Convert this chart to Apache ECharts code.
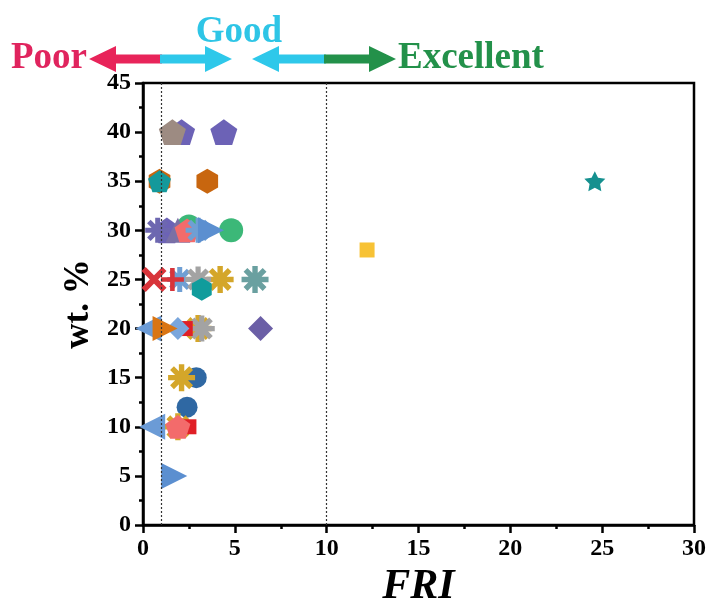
<!DOCTYPE html>
<html>
<head>
<meta charset="utf-8">
<script src="https://cdn.jsdelivr.net/npm/echarts@6/dist/echarts.min.js"></script>
<style>
html,body{margin:0;padding:0;background:#fff;}
#chart{width:706px;height:604px;}
</style>
</head>
<body>
<div id="chart"></div>
<script>
// ---------------- data ----------------
const xTicks = [0, 5, 10, 15, 20, 25, 30];
const yTicks = [0, 5, 10, 15, 20, 25, 30, 35, 40, 45];
const thresholds = [1, 10];
const headerLabels = ['Poor', 'Good', 'Excellent'];
const xName = 'FRI';
const yName = 'wt. %';

const orangeHexagon   = [[0.9, 35], [3.5, 35]];
const tealPentagon    = [[0.9, 35]];
const purplePentagon  = [[2.1, 40], [4.4, 40], [1.3, 30]];
const brownPentagon   = [[1.6, 40]];
const purpleAsterisk  = [[0.8, 30]];
const grayPurpleTri   = [[1.9, 30]];
const greenCircle     = [[2.5, 30.4], [4.8, 30]];
const salmonPentagonA = [[2.4, 30]];
const blueAsterisk    = [[2.0, 25], [3.0, 30]];
const blueRightTri    = [[1.7, 5], [3.7, 30]];
const redX            = [[0.6, 25]];
const redPlus         = [[1.6, 25]];
const grayAsterisk    = [[3.0, 25], [3.2, 20]];
const goldAsterisk    = [[4.2, 25], [3.0, 20], [2.1, 15], [1.9, 10]];
const tealGrayAsterisk= [[6.1, 25]];
const tealHexagon     = [[3.2, 24]];
const blueLeftTri     = [[0.3, 20], [0.5, 10]];
const blueDiamond     = [[1.9, 20]];
const redSquare       = [[2.3, 20], [2.5, 10]];
const orangeRightTri  = [[1.2, 20]];
const purpleDiamond   = [[6.4, 20]];
const darkBlueCircle  = [[2.9, 15], [2.4, 12]];
const salmonPentagonB = [[1.9, 10]];
const tealStar        = [[24.6, 35]];
const goldSquare      = [[12.2, 28]];

// ---------------- symbol paths ----------------
function f(n){return (Math.round(n*1000)/1000).toString();}
function barsPath(angles, hw){
  let s = 'path://';
  angles.forEach(a => {
    const r = a*Math.PI/180, c = Math.cos(r), sn = Math.sin(r);
    const dx=c, dy=sn, px=-sn*hw, py=c*hw;
    const pts = [[dx+px,dy+py],[-dx+px,-dy+py],[-dx-px,-dy-py],[dx-px,dy-py]];
    s += 'M'+f(pts[0][0])+','+f(pts[0][1]);
    for(let i=1;i<4;i++) s += 'L'+f(pts[i][0])+','+f(pts[i][1]);
    s += 'Z';
  });
  return s;
}
function polyPath(n, startDeg, inner){
  let s='path://';
  const count = inner ? n*2 : n;
  for(let i=0;i<count;i++){
    const a=(startDeg + i*360/count)*Math.PI/180;
    const rad = inner && (i%2===1) ? inner : 1;
    s += (i===0?'M':'L')+f(rad*Math.cos(a))+','+f(rad*Math.sin(a));
  }
  return s+'Z';
}
const ASTERISK = barsPath([0,45,90,135], 0.2);
const XMARK = barsPath([45,135], 0.2);
const PLUS = barsPath([0,90], 0.2);
const PENTAGON = polyPath(5, -90);
const HEXAGON = polyPath(6, -90);
const STAR = polyPath(5, -90, 0.5);

function sc(name, data, symbol, size, color, extra){
  return Object.assign({
    name, type:'scatter', data, symbol, symbolSize:size, symbolKeepAspect:true,
    itemStyle:{color, opacity:1}, silent:true
  }, extra||{});
}

const series = [
  sc('darkBlueCircle', darkBlueCircle, 'circle', 21, '#2f68a3'),
  sc('orangeHexagon', orangeHexagon, HEXAGON, 25, '#c8660f'),
  sc('tealPentagon', tealPentagon, PENTAGON, 23, '#14999b'),
  sc('purplePentagon', purplePentagon, PENTAGON, 27, '#6c62b6'),
  sc('brownPentagon', brownPentagon, PENTAGON, 27, '#9d8b82'),
  sc('purpleAsterisk', purpleAsterisk, ASTERISK, 25, '#6d67b0'),
  sc('greenCircle', greenCircle, 'circle', 24, '#3cb878'),
  sc('grayPurpleTri', grayPurpleTri, 'triangle', 25, '#7a70a5'),
  sc('salmonPentagonA', salmonPentagonA, PENTAGON, 25, '#f36b6b'),
  sc('blueAsterisk', blueAsterisk, ASTERISK, 25, '#6f9fd4'),
  sc('blueRightTri', blueRightTri, 'triangle', 26, '#5b8fd0', {symbolRotate:-90}),
  sc('redX', redX, XMARK, 25, '#d8343a'),
  sc('redPlus', redPlus, PLUS, 23, '#d8343a'),
  sc('goldAsterisk', goldAsterisk, ASTERISK, 27, '#d4a62a'),
  sc('grayAsterisk', grayAsterisk, ASTERISK, 26, '#a3a3a3'),
  sc('tealGrayAsterisk', tealGrayAsterisk, ASTERISK, 27, '#6aa0a0'),
  sc('tealHexagon', tealHexagon, HEXAGON, 23, '#109c9c'),
  sc('blueLeftTri', blueLeftTri, 'triangle', 26, '#6b9bd6', {symbolRotate:90}),
  sc('redSquare', redSquare, 'rect', 15, '#e01f26'),
  sc('blueDiamond', blueDiamond, 'diamond', 23, '#7aa6dc'),
  sc('orangeRightTri', orangeRightTri, 'triangle', 25, '#d97514', {symbolRotate:-90}),
  sc('purpleDiamond', purpleDiamond, 'diamond', 25, '#6b5fa6'),
  sc('salmonPentagonB', salmonPentagonB, PENTAGON, 25, '#f36b6b'),
  sc('tealStar', tealStar, STAR, 21, '#15908f'),
  sc('goldSquare', goldSquare, 'rect', 15, '#f7c235')
];

series.push({
  type:'scatter', data:[], silent:true,
  markLine:{
    silent:true, symbol:'none', animation:false,
    lineStyle:{type:[2,2], color:'#333', width:1.2},
    label:{show:false},
    data: thresholds.map(v=>({xAxis:v}))
  }
});

const FONT = '"Liberation Serif","Times New Roman",serif';

// header arrows
function arrow(tipX, y, dir, headLen, headH, shaftH, shaftEnd){
  const hb = tipX - dir*headLen;
  return [[tipX,y],[hb,y-headH],[hb,y-shaftH],[shaftEnd,y-shaftH],[shaftEnd,y+shaftH],[hb,y+shaftH],[hb,y+headH]];
}
const AY = 59;
const graphics = [
  {type:'polygon', shape:{points:arrow(89,AY,-1,27,13,4.5,162)}, style:{fill:'#e8245a'}},
  {type:'polygon', shape:{points:arrow(232,AY,1,27,13,4.5,160)}, style:{fill:'#2ec8ea'}},
  {type:'polygon', shape:{points:arrow(252,AY,-1,27,13,4.5,326)}, style:{fill:'#2ec8ea'}},
  {type:'polygon', shape:{points:arrow(396,AY,1,27,13,4.5,324)}, style:{fill:'#23914a'}},
  {type:'text', x:87, y:58, style:{text:headerLabels[0], fill:'#e0245e', font:'bold 37px '+FONT, textAlign:'right', textVerticalAlign:'middle'}},
  {type:'text', x:239, y:32, style:{text:headerLabels[1], fill:'#2ec5e6', font:'bold 37px '+FONT, textAlign:'center', textVerticalAlign:'middle'}},
  {type:'text', x:398, y:58, style:{text:headerLabels[2], fill:'#23914a', font:'bold 37px '+FONT, textAlign:'left', textVerticalAlign:'middle'}}
];

const chart = echarts.init(document.getElementById('chart'), null, {renderer:'canvas'});
chart.setOption({
  animation:false,
  backgroundColor:'#fff',
  grid:{left:143, right:12, top:83, bottom:79, show:true, borderColor:'#000', borderWidth:2.5,
        containLabel:false, outerBoundsMode:'none'},
  xAxis:{
    type:'value', min:xTicks[0], max:xTicks[xTicks.length-1], interval:5,
    name:xName, nameLocation:'middle', nameGap:41,
    nameTextStyle:{fontFamily:FONT, fontWeight:'bold', fontStyle:'italic', fontSize:42, color:'#000'},
    axisLine:{show:true, onZero:false, lineStyle:{color:'#000', width:2.5}},
    axisTick:{show:true, inside:false, length:8, lineStyle:{color:'#000', width:2.5}},
    minorTick:{show:true, splitNumber:2, length:4, lineStyle:{color:'#000', width:2.5}},
    splitLine:{show:false},
    axisLabel:{fontFamily:FONT, fontWeight:'bold', fontSize:24, color:'#000', margin:12}
  },
  yAxis:{
    type:'value', min:yTicks[0], max:yTicks[yTicks.length-1], interval:5,
    name:yName, nameLocation:'middle', nameGap:43, nameRotate:90,
    nameTextStyle:{fontFamily:FONT, fontWeight:'bold', fontSize:35, color:'#000'},
    axisLine:{show:true, onZero:false, lineStyle:{color:'#000', width:2.5}},
    axisTick:{show:true, inside:false, length:8, lineStyle:{color:'#000', width:2.5}},
    minorTick:{show:true, splitNumber:2, length:4, lineStyle:{color:'#000', width:2.5}},
    splitLine:{show:false},
    axisLabel:{fontFamily:FONT, fontWeight:'bold', fontSize:24, color:'#000', margin:12}
  },
  graphic:graphics,
  series
});
</script>
</body>
</html>
